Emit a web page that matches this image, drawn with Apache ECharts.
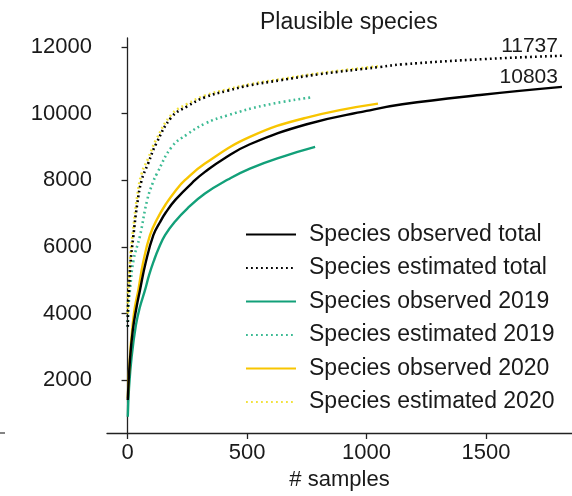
<!DOCTYPE html>
<html>
<head>
<meta charset="utf-8">
<script src="https://cdn.jsdelivr.net/npm/echarts@6/dist/echarts.min.js"></script>
<style>html,body{margin:0;padding:0;background:#fff}#c{width:572px;height:496px}</style>
</head>
<body>
<div id="c"></div>
<script>
// ---- data ----
const title = 'Plausible species';
const xName = '# samples';
const xTicks = [0, 500, 1000, 1500];
const yTicks = [2000, 4000, 6000, 8000, 10000, 12000];
const seriesNames = ['Species observed total', 'Species estimated total', 'Species observed 2019',
  'Species estimated 2019', 'Species observed 2020', 'Species estimated 2020'];

const obsTotalX = [1, 10, 22, 38, 52, 75, 108, 135, 160, 200, 282, 324, 400, 512, 750, 1000, 1150, 1475, 1818];
const obsTotalY = [1400, 2600, 3500, 4200, 4700, 5500, 6350, 6730, 7030, 7410, 8000, 8250, 8630, 9080, 9680, 10080, 10280, 10560, 10803];

const estTotalX = [1, 2, 6, 12, 24, 40, 59, 86, 120, 185, 250, 324, 420, 512, 638, 800, 1056, 1150, 1500, 1818];
const estTotalY = [3600, 4300, 4700, 5500, 6300, 7260, 8000, 8500, 9100, 9900, 10220, 10490, 10690, 10850, 11000, 11180, 11400, 11480, 11640, 11737];

const obs2019X = [1, 6, 17, 35, 52, 73, 90, 110, 130, 157, 200, 250, 324, 420, 512, 650, 785];
const obs2019Y = [900, 1750, 2700, 3650, 4200, 4700, 5150, 5580, 5950, 6350, 6770, 7150, 7600, 8020, 8350, 8710, 9000];

const est2019X = [1, 4, 10, 25, 52, 82, 107, 123, 185, 250, 324, 420, 575, 773];
const est2019Y = [3600, 4200, 4700, 5600, 6330, 7400, 7950, 8200, 9000, 9380, 9700, 9950, 10250, 10490];

const obs2020X = [1, 10, 22, 31, 45, 65, 94, 125, 160, 200, 240, 324, 512, 750, 1048];
const obs2020Y = [1450, 2700, 3700, 4200, 4700, 5520, 6350, 6850, 7280, 7680, 8000, 8500, 9300, 9880, 10300];

const est2020X = [1, 2, 6, 12, 24, 40, 59, 86, 120, 185, 250, 324, 420, 512, 638, 800, 1048];
const est2020Y = [4000, 4600, 5000, 5750, 6550, 7500, 8200, 8650, 9220, 9980, 10290, 10540, 10730, 10880, 11030, 11210, 11420];

// ---- chart ----
const FONT = '"Liberation Sans", Arial, Helvetica, sans-serif';
const pairs = (xs, ys) => xs.map((x, i) => [x, ys[i]]);
const last = (xs, ys) => [xs[xs.length - 1], ys[ys.length - 1]];

function line(name, xs, ys, color, dotted, z, endLabel) {
  const s = {
    name, type: 'line', data: pairs(xs, ys), showSymbol: false, symbol: 'none',
    smooth: 0.45, z,
    lineStyle: { color, width: dotted ? 2.6 : 2.4, type: dotted ? [1.8, 3.2] : 'solid', cap: 'butt' },
    itemStyle: { color },
    emphasis: { disabled: true }
  };
  if (endLabel) {
    const p = last(xs, ys);
    s.markPoint = {
      symbol: 'circle', symbolSize: 0, silent: true, animation: false,
      data: [{ coord: p, value: p[1] }],
      label: {
        show: true, position: 'inside', align: 'right', verticalAlign: 'bottom',
        offset: [-4, 1], color: '#1a1a1a', fontSize: 21, fontFamily: FONT,
        formatter: (d) => String(d.value)
      }
    };
  }
  return s;
}

const plain = (v) => String(v);

const chart = echarts.init(document.getElementById('c'), null, { renderer: 'canvas' });
chart.setOption({
  animation: false,
  backgroundColor: '#ffffff',
  title: {
    text: title, left: 255, top: 6,
    textStyle: { fontFamily: FONT, fontSize: 23, fontWeight: 'normal', color: '#1a1a1a' }
  },
  grid: { left: 107, right: 0, top: 38, bottom: 63, containLabel: false },
  legend: {
    data: seriesNames,
    orient: 'vertical', left: 240, top: 218,
    itemWidth: 50, itemHeight: 18, itemGap: 10.5,
    itemStyle: { opacity: 0 },
    textStyle: { fontFamily: FONT, fontSize: 23, color: '#1a1a1a', padding: [0, 0, 0, 8] },
    selectedMode: false
  },
  xAxis: {
    type: 'value', min: -86, max: 1860,
    name: xName, nameLocation: 'middle', nameGap: 29,
    nameTextStyle: { fontFamily: FONT, fontSize: 22, color: '#1a1a1a' },
    axisLine: { show: true, lineStyle: { color: '#222', width: 1.3 } },
    axisTick: { show: true, length: 6, lineStyle: { color: '#222', width: 1.3 }, customValues: xTicks },
    axisLabel: { fontFamily: FONT, fontSize: 22, color: '#1a1a1a', margin: 9, customValues: xTicks, formatter: plain },
    splitLine: { show: false }
  },
  yAxis: {
    type: 'value', min: 411, max: 12270,
    axisLine: { show: true, lineStyle: { color: '#222', width: 1.3 } },
    axisTick: { show: true, length: 6, lineStyle: { color: '#222', width: 1.3 }, customValues: yTicks },
    axisLabel: { fontFamily: FONT, fontSize: 22, color: '#1a1a1a', margin: 15, customValues: yTicks, formatter: plain },
    splitLine: { show: false }
  },
  graphic: [{
    type: 'line', shape: { x1: 0, y1: 433, x2: 5, y2: 433 },
    style: { stroke: '#333', lineWidth: 1.2 }
  }],
  series: [
    line(seriesNames[5], est2020X, est2020Y, '#F2E23C', true, 2, false),
    line(seriesNames[3], est2019X, est2019Y, '#3DBB94', true, 3, false),
    line(seriesNames[2], obs2019X, obs2019Y, '#12A079', false, 4, false),
    line(seriesNames[4], obs2020X, obs2020Y, '#F8C500', false, 5, false),
    line(seriesNames[0], obsTotalX, obsTotalY, '#000000', false, 6, true),
    line(seriesNames[1], estTotalX, estTotalY, '#000000', true, 7, true)
  ]
});
</script>
</body>
</html>
